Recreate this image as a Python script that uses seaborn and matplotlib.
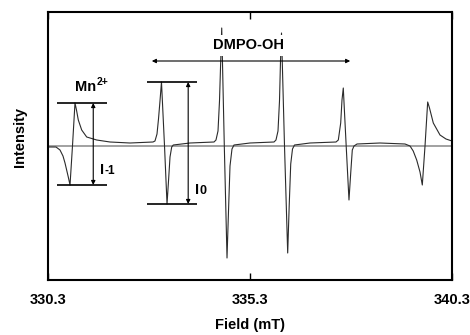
import matplotlib
matplotlib.use("Agg")
import matplotlib.pyplot as plt
import seaborn as sns
import pandas as pd

# ---- data (field in mT, intensity in arb. units) ----
field = [
    330.300, 330.498, 330.597, 330.671, 330.721, 330.802, 330.845, 330.906, 330.968,
    331.005, 331.050, 331.134, 331.258, 331.505, 331.835, 332.330, 332.899,
    332.948, 332.998, 333.035, 333.072, 333.109, 333.184, 333.246, 333.283, 333.320,
    333.362, 333.401, 333.815, 334.409,
    334.458, 334.508, 334.545, 334.575, 334.600, 334.664, 334.731, 334.768, 334.805,
    334.854, 334.904, 335.300, 335.894,
    335.943, 335.993, 336.030, 336.055, 336.080, 336.154, 336.233, 336.270, 336.308,
    336.352, 336.402, 336.785, 337.429,
    337.486, 337.545, 337.577, 337.609, 337.681, 337.750, 337.793, 337.832, 337.874,
    337.949, 338.518, 339.137,
    339.261, 339.340, 339.426, 339.508, 339.565, 339.632, 339.698, 339.743, 339.837,
    340.003, 340.151, 340.300,
]
intensity = [
    -1, -1, -4, -10, -17, -31, -39, 0, 43,
    36, 26, 16, 9, 6, 4, 3, 4,
    5, 12, 27, 45, 64, 0, -58, -35, -11,
    -1, 1, 3, 4,
    6, 15, 45, 85, 118, 0, -112, -65, -20,
    -3, 1, 3, 4,
    6, 15, 45, 85, 113, 0, -107, -60, -18,
    -3, 1, 3, 4,
    6, 23, 46, 58, 0, -54, -27, -4, 0,
    2, 3, 2,
    0, -5, -14, -26, -39, 0, 44, 38, 23,
    11, 7, 5,
]
tick_values = [330.3, 335.3, 340.3]
tick_labels = ["330.3", "335.3", "340.3"]

df = pd.DataFrame({"Field (mT)": field, "Intensity": intensity})

sns.set_theme(style="white")
plt.rcParams["font.family"] = ["Liberation Sans", "DejaVu Sans"]
plt.rcParams["font.weight"] = "bold"
plt.rcParams["text.color"] = "black"
plt.rcParams["axes.labelcolor"] = "black"
plt.rcParams["xtick.color"] = "black"
plt.rcParams["ytick.color"] = "black"

fig = plt.figure(figsize=(4.7, 3.35), dpi=100)
ax = fig.add_axes([48 / 470, 55 / 335, 404 / 470, 268 / 335])

ax.axhline(0, color="#9a9a9a", lw=1.3, zorder=1)
sns.lineplot(data=df, x="Field (mT)", y="Intensity", ax=ax, color="#2b2b2b",
             lw=0.8, estimator=None, sort=False, zorder=2)

ax.set_xlim(330.3, 340.3)
ax.set_ylim(-134, 134)
ax.set_xticks(tick_values)
ax.set_xticklabels(tick_labels, fontsize=10.5, fontweight="bold", color="black")
ax.set_yticks([])
ax.tick_params(axis="x", direction="in", length=5, width=1, top=True,
               bottom=True, pad=9.5, color="black", labelcolor="black")
for s in ax.spines.values():
    s.set_visible(True)
    s.set_color("black")
    s.set_linewidth(1.5)

ax.set_xlabel("Field (mT)", fontsize=10.5, fontweight="bold", labelpad=8, color="black")
ax.set_ylabel("Intensity", fontsize=10.5, fontweight="bold", color="black")
ax.yaxis.set_label_coords(-0.052, 0.532)

# ---- annotations derived from the data ----
mn_max = max(intensity[:17]); mn_min = min(intensity[:17])
p1_max = max(intensity[17:30]); p1_min = min(intensity[17:30])

arrow_kw = dict(arrowstyle="<|-|>", color="black", lw=0.8,
                mutation_scale=6, shrinkA=0, shrinkB=0)

ax.hlines([mn_max, mn_min], 330.52, 331.76, color="black", lw=1.2, zorder=3)
ax.annotate("", xy=(331.42, mn_max), xytext=(331.42, mn_min), arrowprops=arrow_kw)
ax.text(330.968, 55, "Mn", ha="left", va="baseline", fontsize=10.5, fontweight="bold")
ax.annotate("2+", xy=(330.968, 55), xytext=(15.6, 4.2), textcoords="offset points",
            ha="left", va="baseline", fontsize=7.5, fontweight="bold")
ax.text(331.585, -28, "I", ha="left", va="baseline", fontsize=10.5, fontweight="bold")
ax.annotate("-1", xy=(331.585, -28), xytext=(3.2, 0), textcoords="offset points",
            ha="left", va="baseline", fontsize=8.5, fontweight="bold")

ax.hlines([p1_max, p1_min], 332.74, 333.98, color="black", lw=1.2, zorder=3)
ax.annotate("", xy=(333.77, p1_max), xytext=(333.77, p1_min), arrowprops=arrow_kw)
ax.text(333.94, -48, "I", ha="left", va="baseline", fontsize=10.5, fontweight="bold")
ax.annotate("0", xy=(333.94, -48), xytext=(3.2, 0), textcoords="offset points",
            ha="left", va="baseline", fontsize=9, fontweight="bold")

ax.annotate("", xy=(332.87, 85), xytext=(337.78, 85), arrowprops=arrow_kw)
ax.text(335.26, 101, "DMPO-OH", ha="center", va="center", fontsize=10.5,
        fontweight="bold", zorder=5,
        bbox=dict(facecolor="white", edgecolor="none", pad=2.5))

fig.savefig("out.png", dpi=100)
